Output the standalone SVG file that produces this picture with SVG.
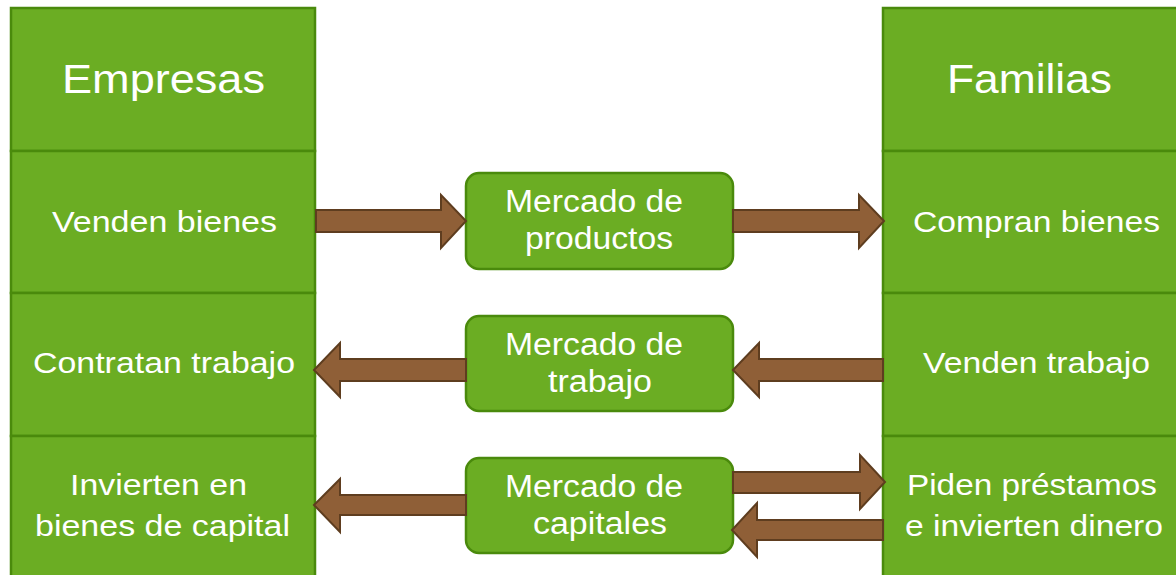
<svg xmlns="http://www.w3.org/2000/svg" width="1176" height="575" viewBox="0 0 1176 575">
<style>
.cell{fill:#6BAD23;stroke:#4A8A0C;stroke-width:2.5}
.mk{fill:#6BAD23;stroke:#4A8A0C;stroke-width:2.5}
.arr{fill:#8F5F37;stroke:#5E3D1F;stroke-width:2;stroke-linejoin:miter}
text{font-family:"Liberation Sans",Arial,sans-serif;fill:#ffffff;text-anchor:middle}
.big{font-size:40px}
.lbl{font-size:30px}
.mt{font-size:31px}
</style>
<rect width="1176" height="575" fill="#ffffff"/>
<g id="empresas">
<rect class="cell" x="11" y="8" width="304" height="143"/>
<text class="big" x="163.5" y="93" textLength="203" lengthAdjust="spacingAndGlyphs">Empresas</text>
</g>
<g id="venden-bienes">
<rect class="cell" x="11" y="151" width="304" height="142"/>
<text class="lbl" x="164.5" y="232" textLength="225" lengthAdjust="spacingAndGlyphs">Venden bienes</text>
</g>
<g id="contratan-trabajo">
<rect class="cell" x="11" y="293" width="304" height="143"/>
<text class="lbl" x="164" y="373" textLength="262" lengthAdjust="spacingAndGlyphs">Contratan trabajo</text>
</g>
<g id="invierten">
<rect class="cell" x="11" y="436" width="304" height="150"/>
<text class="lbl" x="158.5" y="495" textLength="177" lengthAdjust="spacingAndGlyphs">Invierten en</text>
<text class="lbl" x="162.5" y="536" textLength="255" lengthAdjust="spacingAndGlyphs">bienes de capital</text>
</g>
<g id="familias">
<rect class="cell" x="883" y="8" width="310" height="143"/>
<text class="big" x="1029.5" y="93" textLength="165" lengthAdjust="spacingAndGlyphs">Familias</text>
</g>
<g id="compran-bienes">
<rect class="cell" x="883" y="151" width="310" height="142"/>
<text class="lbl" x="1036.5" y="232" textLength="247" lengthAdjust="spacingAndGlyphs">Compran bienes</text>
</g>
<g id="venden-trabajo">
<rect class="cell" x="883" y="293" width="310" height="143"/>
<text class="lbl" x="1036.5" y="373" textLength="227" lengthAdjust="spacingAndGlyphs">Venden trabajo</text>
</g>
<g id="piden-prestamos">
<rect class="cell" x="883" y="436" width="310" height="150"/>
<text class="lbl" x="1032" y="495" textLength="250" lengthAdjust="spacingAndGlyphs">Piden préstamos</text>
<text class="lbl" x="1034" y="536" textLength="258" lengthAdjust="spacingAndGlyphs">e invierten dinero</text>
</g>
<g id="mercado-productos">
<rect class="mk" x="466" y="173" width="267" height="96" rx="13"/>
<text class="mt" x="594" y="212" textLength="178" lengthAdjust="spacingAndGlyphs">Mercado de</text>
<text class="mt" x="599" y="249" textLength="148" lengthAdjust="spacingAndGlyphs">productos</text>
</g>
<g id="mercado-trabajo">
<rect class="mk" x="466" y="316" width="267" height="95" rx="13"/>
<text class="mt" x="594" y="355" textLength="178" lengthAdjust="spacingAndGlyphs">Mercado de</text>
<text class="mt" x="600" y="392" textLength="104" lengthAdjust="spacingAndGlyphs">trabajo</text>
</g>
<g id="mercado-capitales">
<rect class="mk" x="466" y="458" width="267" height="95" rx="13"/>
<text class="mt" x="594" y="497" textLength="178" lengthAdjust="spacingAndGlyphs">Mercado de</text>
<text class="mt" x="600" y="534" textLength="134" lengthAdjust="spacingAndGlyphs">capitales</text>
</g>
<g id="connectors">
<polygon class="arr" points="316,210 441,210 441,195 466,221 441,248 441,232 316,232"/>
<polygon class="arr" points="733,210 859,210 859,195 884,221 859,248 859,232 733,232"/>
<polygon class="arr" points="466,359 340,359 340,343 314,370 340,397 340,381 466,381"/>
<polygon class="arr" points="883,359 759,359 759,343 733,370 759,397 759,381 883,381"/>
<polygon class="arr" points="466,495 340,495 340,479 314,505 340,532 340,515 466,515"/>
<polygon class="arr" points="733,472 860,472 860,455 885,482 860,509 860,493 733,493"/>
<polygon class="arr" points="883,520 757,520 757,503 732,530 757,557 757,540 883,540"/>
</g>
</svg>
